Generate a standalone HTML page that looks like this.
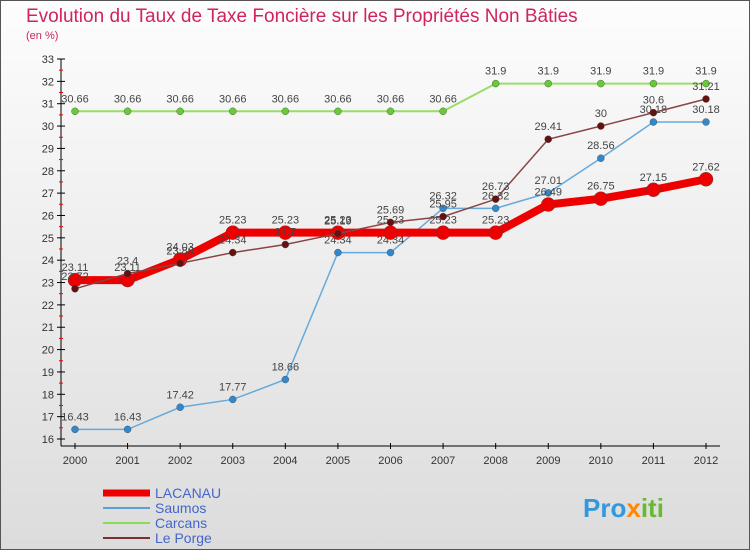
<!DOCTYPE html>
<html><head><meta charset="utf-8"><style>
body{margin:0;width:750px;height:550px;overflow:hidden;font-family:"Liberation Sans",sans-serif}
</style></head><body>
<svg width="750" height="550" xmlns="http://www.w3.org/2000/svg" id="svg">
<defs><linearGradient id="bg" x1="0" y1="0" x2="0" y2="1"><stop offset="0" stop-color="#fdfdfd"/><stop offset="1" stop-color="#dcdcdc"/></linearGradient></defs>
<rect x="0.5" y="0.5" width="749" height="549" fill="url(#bg)" stroke="#555"/>
<text x="26" y="22" font-size="19" fill="#d0245c">Evolution du Taux de Taxe Foncière sur les Propriétés Non Bâties</text>
<text x="26" y="39" font-size="11" fill="#d0245c">(en %)</text>
<g id="axes"></g><g id="series"></g>
<g>
<line x1="103" y1="493" x2="150" y2="493" stroke="#ee0000" stroke-width="7"/><text x="155" y="498" font-size="14" fill="#4466cc">LACANAU</text>
<line x1="103" y1="508" x2="150" y2="508" stroke="#5b9fd4" stroke-width="2"/><text x="155" y="513" font-size="14" fill="#4466cc">Saumos</text>
<line x1="103" y1="523" x2="150" y2="523" stroke="#88dd55" stroke-width="2"/><text x="155" y="528" font-size="14" fill="#4466cc">Carcans</text>
<line x1="103" y1="538" x2="150" y2="538" stroke="#773333" stroke-width="2"/><text x="155" y="543" font-size="14" fill="#4466cc">Le Porge</text>
</g>
<text x="583" y="517" font-size="26" font-weight="bold" fill="#3399dd">Pro<tspan fill="#ff8800">x</tspan><tspan fill="#66bb33">iti</tspan></text>
</svg>
<script>
const years=[2000,2001,2002,2003,2004,2005,2006,2007,2008,2009,2010,2011,2012];
const yTicks=[16,17,18,19,20,21,22,23,24,25,26,27,28,29,30,31,32,33];
const lacanau=[23.11,23.11,24.03,25.23,25.23,25.23,25.23,25.23,25.23,26.49,26.75,27.15,27.62];
const saumos=[16.43,16.43,17.42,17.77,18.66,24.34,24.34,26.32,26.32,27.01,28.56,30.18,30.18];
const carcans=[30.66,30.66,30.66,30.66,30.66,30.66,30.66,30.66,31.9,31.9,31.9,31.9,31.9];
const lePorge=[22.72,23.4,23.86,24.34,24.7,25.19,25.69,25.95,26.73,29.41,30,30.6,31.21];
const NS="http://www.w3.org/2000/svg";
const xs=i=>75+i*(706-75)/(years.length-1);
const ys=v=>439-(v-16)*(439-59)/17;
function mk(tag,attrs,parent,txt){const e=document.createElementNS(NS,tag);for(const k in attrs)e.setAttribute(k,attrs[k]);if(txt!==undefined)e.textContent=txt;parent.appendChild(e);return e;}
const ax=document.getElementById('axes');
const yl=mk('line',{x1:61,y1:59,x2:61,y2:446,stroke:'#000'},ax);


const xl=mk('line',{x1:61,y1:446,x2:720,y2:446,stroke:'#000'},ax);


yTicks.forEach(t=>{const y=ys(t);
mk('line',{x1:57,y1:y,x2:65,y2:y,stroke:'#000'},ax);
if(t<33)mk('line',{x1:59,y1:y-11.2,x2:63,y2:y-11.2,stroke:'#e00'},ax);
const tx=mk('text',{x:54,y:y+4,'font-size':11,'text-anchor':'end',fill:'#333'},ax,t);

});
years.forEach((yr,i)=>{const x=xs(i);mk('line',{x1:x,y1:443,x2:x,y2:449,stroke:'#000'},ax);
const tx=mk('text',{x:x,y:464,'font-size':11,'text-anchor':'middle',fill:'#333'},ax,yr);

});
const sg=document.getElementById('series');
function series(name,vals,color,w,r,dot){
const g=mk('g',{},sg);


mk('polyline',{points:vals.map((v,i)=>xs(i)+','+ys(v)).join(' '),fill:'none',stroke:color,'stroke-width':w},g);
vals.forEach((v,i)=>{const c=mk('circle',{cx:xs(i),cy:ys(v),r:r,fill:dot,stroke:'#444','stroke-width':0.4},g);


const t=mk('text',{x:xs(i),y:ys(v)-9,'font-size':11,'text-anchor':'middle',fill:'#444'},g,v);

});}
series('carcans',carcans,'#99dd66',2,3.5,'#66cc33');
series('saumos',saumos,'#66aadd',1.5,3.5,'#3388cc');
series('lacanau',lacanau,'#ee0000',8,7,'#ee0000');
series('le-porge',lePorge,'#884444',1.5,3.5,'#661111');
</script>
</body></html>
